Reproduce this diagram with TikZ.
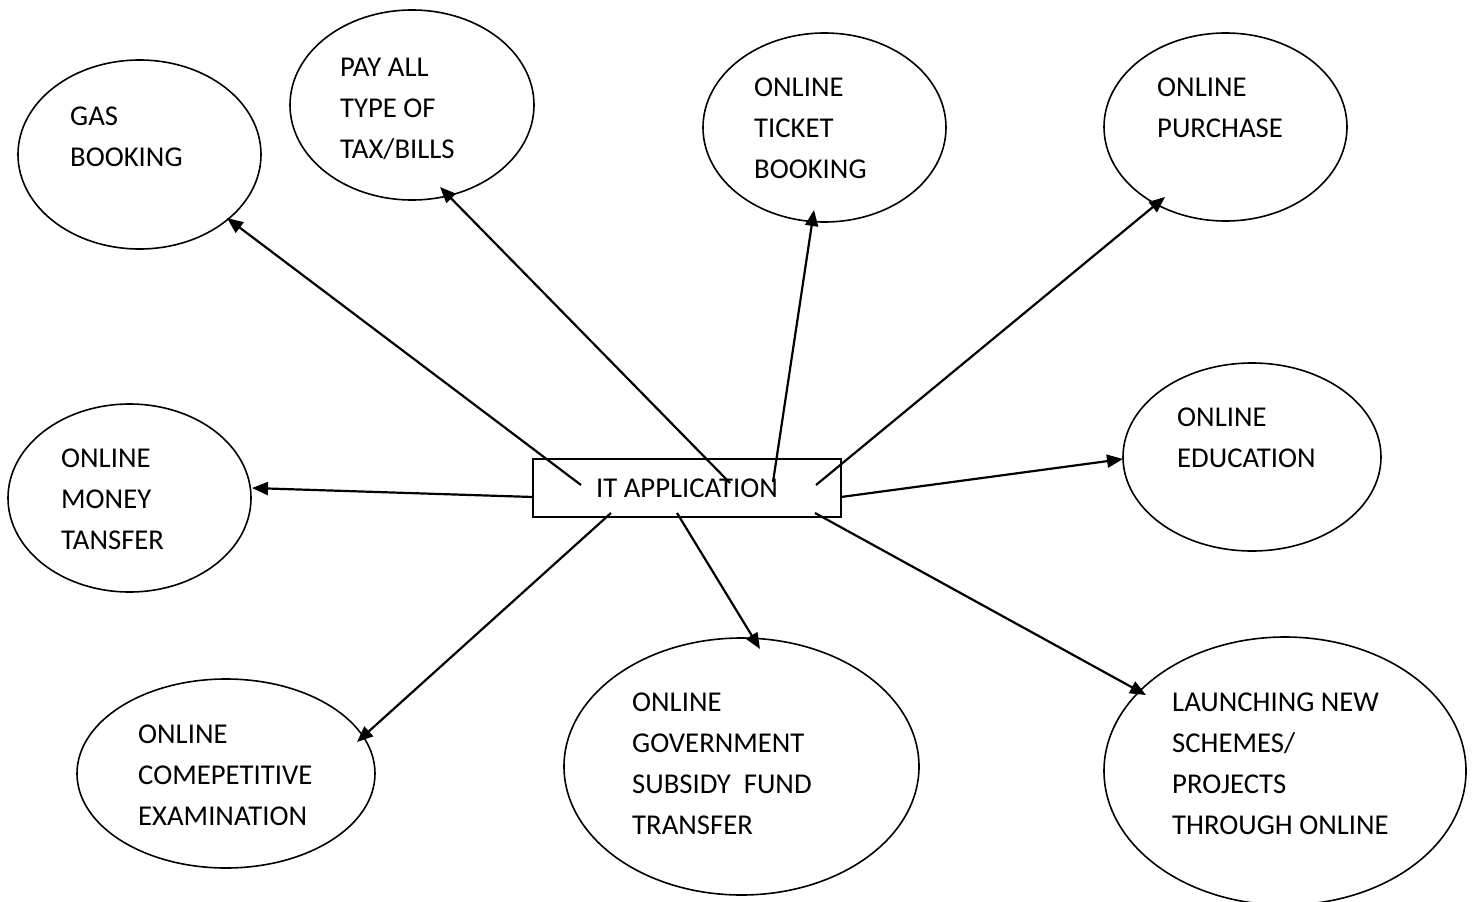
\documentclass[tikz,border=0pt]{standalone}
\usepackage{fontspec}
\setmainfont{Carlito}
\usetikzlibrary{shapes.geometric,arrows.meta}
\newcommand\lns[1]{\begin{tabular}[t]{@{}l@{}}#1\end{tabular}}
\begin{document}
\begin{tikzpicture}[x=1pt,y=-1pt,
  bubble/.style={draw, ellipse, line width=1.6pt, inner sep=0pt},
  lbl/.style={anchor=base west, inner sep=0pt, font=\fontsize{28.7}{41}\selectfont},
  hub/.style={draw, rectangle, line width=2pt, inner sep=0pt, font=\fontsize{28.7}{41}\selectfont},
  conn/.style={line width=2.2pt, -{Triangle[length=16pt,width=13pt]}}]
\useasboundingbox (0,0) rectangle (1475,902);
% bubbles
\node[bubble, minimum width=243pt, minimum height=189pt] (gas) at (139.5,154.5) {};
\node[bubble, minimum width=244pt, minimum height=190pt] (pay) at (412,105) {};
\node[bubble, minimum width=243pt, minimum height=189pt] (ticket) at (824.5,127.5) {};
\node[bubble, minimum width=243pt, minimum height=188pt] (purchase) at (1225.5,127) {};
\node[bubble, minimum width=258pt, minimum height=188pt] (edu) at (1252,457) {};
\node[bubble, minimum width=243pt, minimum height=188pt] (money) at (129.5,498) {};
\node[bubble, minimum width=298pt, minimum height=189pt] (comp) at (226,773.5) {};
\node[bubble, minimum width=355pt, minimum height=257pt] (govt) at (741.5,766.5) {};
\node[bubble, minimum width=362pt, minimum height=268pt] (launch) at (1285,771) {};
% labels
\node[lbl] (gasL) at (70,125) {\lns{GAS\\BOOKING}};
\node[lbl] (payL) at (340,76) {\lns{PAY ALL\\TYPE OF\\TAX/BILLS}};
\node[lbl] (ticketL) at (754,96) {\lns{ONLINE\\TICKET\\BOOKING}};
\node[lbl] (purchaseL) at (1157,96) {\lns{ONLINE\\PURCHASE}};
\node[lbl] (eduL) at (1177,426) {\lns{ONLINE\\EDUCATION}};
\node[lbl] (moneyL) at (61,467) {\lns{ONLINE\\MONEY\\TANSFER}};
\node[lbl] (compL) at (138,743) {\lns{ONLINE\\COMEPETITIVE\\EXAMINATION}};
\node[lbl] (govtL) at (632,711) {\lns{ONLINE\\GOVERNMENT\\SUBSIDY\ \ FUND\\TRANSFER}};
\node[lbl] (launchL) at (1172,711) {\lns{LAUNCHING NEW\\SCHEMES/\\PROJECTS\\THROUGH ONLINE}};
% hub
\node[hub, minimum width=308pt, minimum height=58pt] (it) at (687,488) {IT APPLICATION};
% connector end points
\coordinate (s1) at (581,485); \coordinate (t1) at (227,218);
\coordinate (s2) at (730,483); \coordinate (t2) at (440,187);
\coordinate (s3) at (773,482); \coordinate (t3) at (814,210);
\coordinate (s4) at (816,485); \coordinate (t4) at (1165,197);
\coordinate (s5) at (841,497); \coordinate (t5) at (1123,459);
\coordinate (s6) at (533,497); \coordinate (t6) at (252,488);
\coordinate (s7) at (611,513); \coordinate (t7) at (357,742);
\coordinate (s8) at (677,513); \coordinate (t8) at (760,649);
\coordinate (s9) at (815,513); \coordinate (t9) at (1146,695);
\foreach \i in {1,...,9} {\draw[conn] (s\i) -- (t\i);}
\end{tikzpicture}
\end{document}
